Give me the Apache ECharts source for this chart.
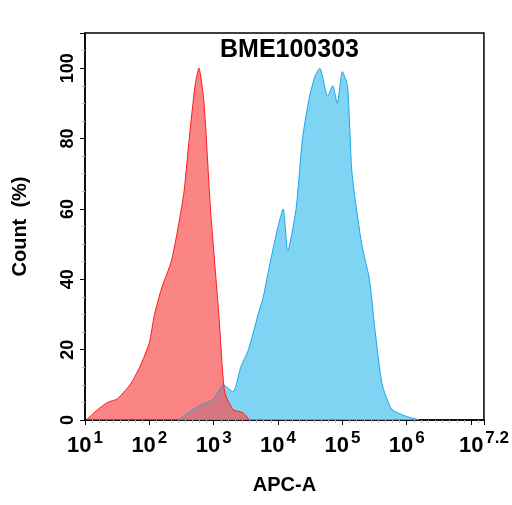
<!DOCTYPE html><html><head><meta charset="utf-8"><script src="https://cdn.jsdelivr.net/npm/echarts@6/dist/echarts.min.js"></script></head><body style="margin:0"><div id="c" style="width:512px;height:505px"></div><script>
const title='BME100303';
const xTicks=[1,2,3,4,5,6,7.2];
const redX=[1.02,1.2,1.35,1.5,1.7,1.85,2.0,2.08,2.2,2.34,2.45,2.54,2.62,2.71,2.77,2.85,2.95,3.08,3.17,3.3,3.46,3.55];
const redY=[0,3,5,6,10,15,22,30,38,45,55,65,80,95,100,90,60,30,8,3,2,0];
const blueX=[2.45,2.6,2.77,3.0,3.15,3.3,3.42,3.54,3.69,3.77,3.88,4.0,4.08,4.15,4.28,4.38,4.49,4.58,4.65,4.77,4.85,4.92,5.0,5.08,5.15,5.3,5.42,5.51,5.62,5.77,6.0,6.2];
const blueY=[0,2,4,6,10,8,15,20,30,35,45,55,60,48,60,80,92,98,100,92,95,90,99,95,70,50,40,25,10,3,1,0];
const pair=(a,b)=>a.map((v,i)=>[v,b[i]]);
const ch=echarts.init(document.getElementById('c'));
ch.setOption({
title:{text:title,left:215,top:33,textStyle:{fontSize:25,fontWeight:'bold',fontFamily:'Liberation Sans',color:'#000'}},
grid:{left:85,right:24,top:33,bottom:85,show:true,borderColor:'#000',borderWidth:1.5},
xAxis:{type:'value',min:1,max:7.2,interval:1,name:'APC-A',nameLocation:'middle',nameGap:55,
nameTextStyle:{fontSize:20,fontWeight:'bold',fontFamily:'Liberation Sans',color:'#000'},
axisLine:{lineStyle:{color:'#000',width:1.5}},axisTick:{lineStyle:{color:'#000'}},splitLine:{show:false},
minorTick:{show:true,splitNumber:9,lineStyle:{color:'#bbb'}},
axisLabel:{showMaxLabel:true,margin:10,formatter:v=>'10{s|'+(Math.abs(v-7.2)<0.01?'7.2':Math.round(v))+'}',
rich:{s:{fontSize:17,fontWeight:'bold',color:'#000',fontFamily:'Liberation Sans',verticalAlign:'top',padding:[0,0,14,2]}},fontSize:22,fontWeight:'bold',color:'#000',fontFamily:'Liberation Sans'}},
yAxis:{type:'value',min:0,max:110,interval:20,name:'Count  (%)',nameLocation:'middle',nameGap:55,
nameTextStyle:{fontSize:20,fontWeight:'bold',fontFamily:'Liberation Sans',color:'#000'},
axisLine:{show:true,lineStyle:{color:'#000',width:1.5}},axisTick:{show:true,lineStyle:{color:'#000'}},splitLine:{show:false},
minorTick:{show:true,splitNumber:4,lineStyle:{color:'#bbb'}},
axisLabel:{showMaxLabel:false,fontSize:18,fontWeight:'bold',color:'#000',rotate:90,fontFamily:'Liberation Sans'}},
series:[
{type:'line',data:pair(blueX,blueY),symbol:'none',smooth:0.2,lineStyle:{color:'#1ba6e6',width:1},areaStyle:{color:'rgba(95,200,240,0.8)',opacity:1}},
{type:'line',data:pair(redX,redY),symbol:'none',smooth:0.2,lineStyle:{color:'#ff1a1a',width:1},areaStyle:{color:'rgba(250,80,80,0.7)',opacity:1}}
]});
</script></body></html>
